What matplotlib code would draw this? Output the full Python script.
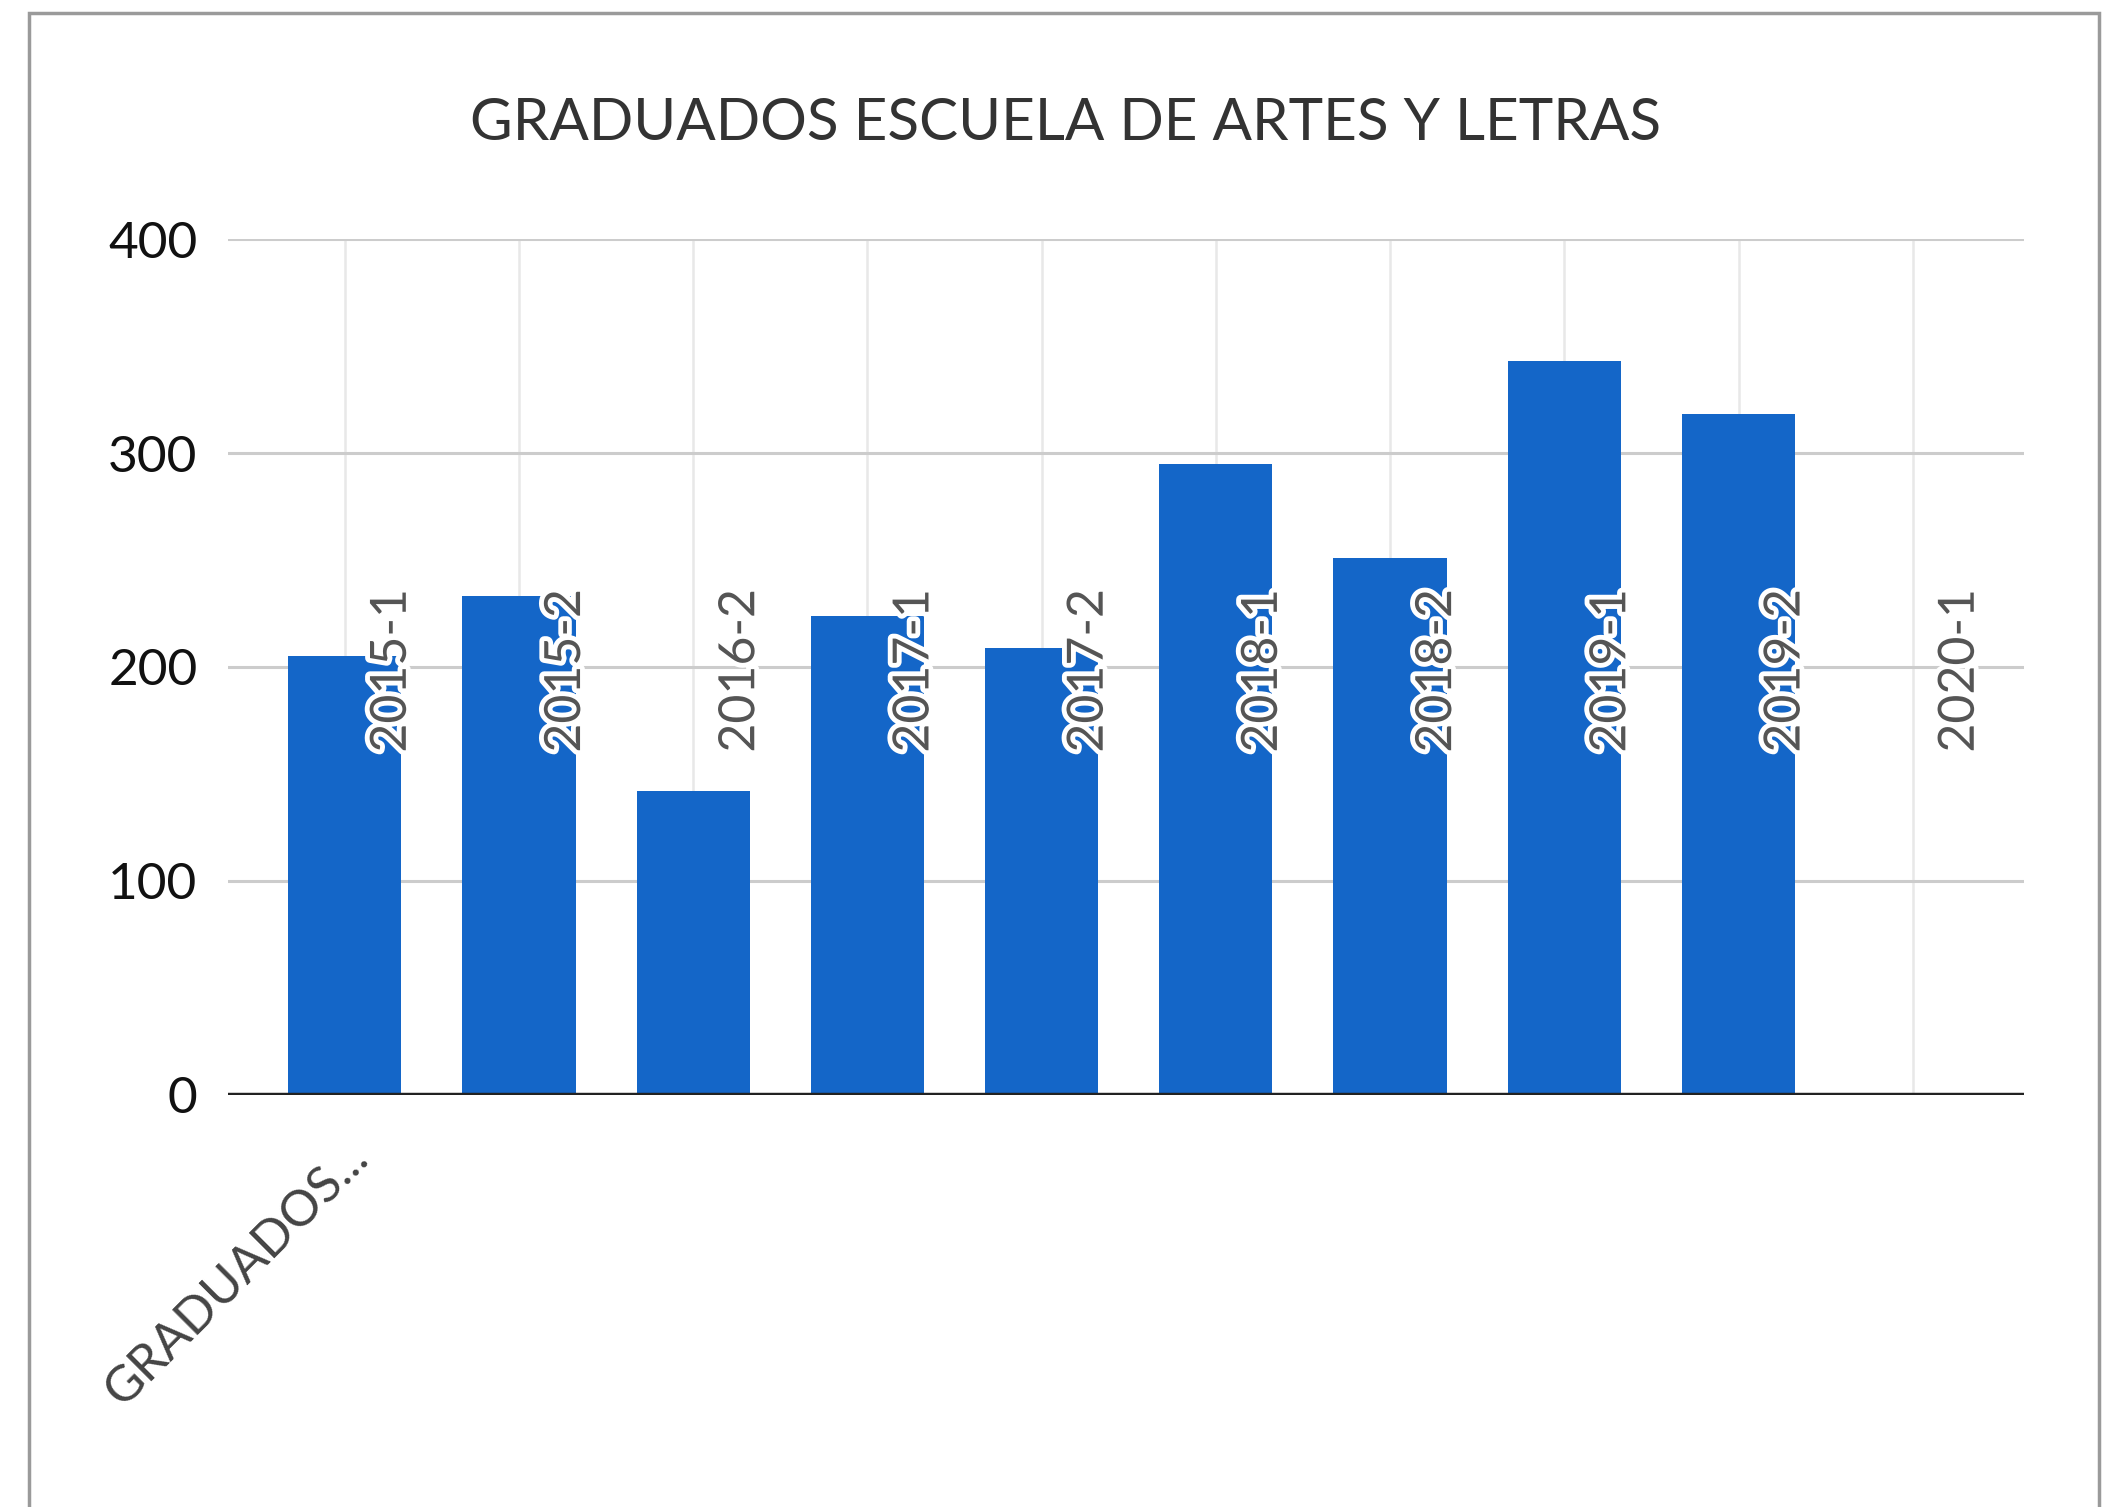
import numpy as np
import matplotlib
matplotlib.use("Agg")
import matplotlib.pyplot as plt
import matplotlib.patheffects as pe
from matplotlib.patches import Rectangle

# data
PERIODS = ["2015-1", "2015-2", "2016-2", "2017-1", "2017-2",
           "2018-1", "2018-2", "2019-1", "2019-2", "2020-1"]
GRADUADOS = [205, 233, 142, 224, 209, 295, 251, 343, 318, 0]
Y_TICKS = [0, 100, 200, 300, 400]
X_TICK_LABEL = "GRADUADOS..."
TITLE = "GRADUADOS ESCUELA DE ARTES Y LETRAS"

BAR_COLOR = "#1466c8"
LABEL_Y = 160

plt.rcParams['font.family'] = ['Lato', 'DejaVu Sans']

fig = plt.figure(figsize=(21.02, 15.07), dpi=100)
ax = fig.add_axes([0.1085, 0.2734, 0.963 - 0.1085, 0.8414 - 0.2734])

x = np.arange(len(PERIODS))
ax.bar(x, GRADUADOS, width=0.65, color=BAR_COLOR, zorder=3)

# data labels, rotated, sitting to the right of each bar
for i, p in enumerate(PERIODS):
    ax.text(i + 0.27, LABEL_Y, p, rotation=90, ha="center", va="bottom",
            fontsize=36, color="#555555", zorder=4,
            path_effects=[pe.withStroke(linewidth=7, foreground="white")])

ax.set_xlim(-0.67, 9.64)
ax.set_ylim(0, 400)
ax.set_yticks(Y_TICKS)
ax.set_yticklabels([str(t) for t in Y_TICKS], fontsize=37, color="#111111")
ax.set_xticks([0])
ax.set_xticklabels([X_TICK_LABEL], rotation=45, ha="right", va="top",
                   fontsize=36, color="#444444", rotation_mode="anchor")
ax.tick_params(axis="both", length=0)
ax.tick_params(axis="y", pad=22)
ax.tick_params(axis="x", pad=28)

for s in ax.spines.values():
    s.set_visible(False)

# grid
for t in Y_TICKS[1:]:
    ax.axhline(t, color="#cccccc", lw=2.2, zorder=1)
for i in x:
    ax.axvline(i, color="#e8e8e8", lw=1.8, zorder=0)
ax.axhline(0, color="#222222", lw=3.2, zorder=5)

fig.text(0.507, 0.918, TITLE, ha="center", va="center", fontsize=42, color="#333333")

# outer frame of the chart card
fig.patches.append(Rectangle((29 / 2102, -0.05), (2099 - 29) / 2102, 1.05 - 13 / 1507,
                             transform=fig.transFigure, fill=False,
                             edgecolor="#9a9a9a", lw=2.5))

fig.savefig("out.png", dpi=100, facecolor="white")
